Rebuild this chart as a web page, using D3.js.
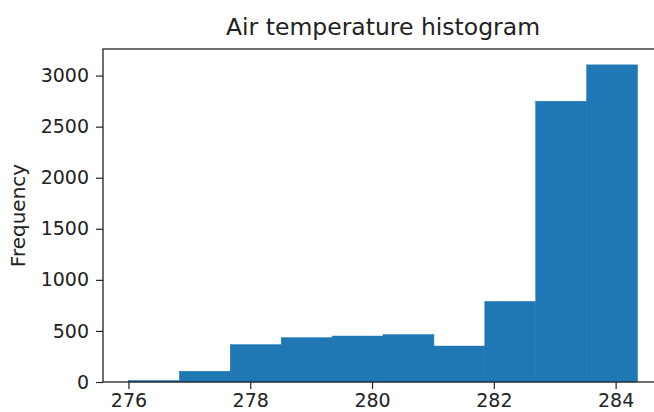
<!DOCTYPE html>
<html>
<head>
<meta charset="utf-8">
<script src="https://cdn.jsdelivr.net/npm/d3@7"></script>
<style>
  body { margin: 0; background: #fff; }
  svg { display: block; }
</style>
</head>
<body>
<div id="chart"></div>
<script>
// histogram bins (air temperature, K) and counts
var binEdges = [276.0, 276.836, 277.672, 278.508, 279.344, 280.18, 281.016, 281.852, 282.688, 283.524, 284.36];
var counts = [15, 105, 366, 434, 450, 464, 352, 789, 2749, 3105];
var xTicks = [276, 278, 280, 282, 284];
var yTicks = [0, 500, 1000, 1500, 2000, 2500, 3000];

var w = 654, h = 412;
var margin = { top: 49, right: -9, bottom: 30, left: 103 };
var width = w - margin.left - margin.right,
    height = h - margin.top - margin.bottom;

var bins = counts.map(function (c, i) {
  return { x0: binEdges[i], x1: binEdges[i + 1], n: c };
});

var lo = binEdges[0], hi = binEdges[binEdges.length - 1];
var pad = (hi - lo) * 0.05;
var x = d3.scaleLinear().domain([lo - pad, hi + pad]).range([0, width]);
var y = d3.scaleLinear().domain([0, d3.max(counts) * 1.05]).range([height, 0]);

var svg = d3.select("#chart").append("svg")
  .attr("width", w)
  .attr("height", h)
  .style("font-family", "'DejaVu Sans', sans-serif");

var g = svg.append("g")
  .attr("transform", "translate(" + margin.left + "," + margin.top + ")");

g.append("g")
  .selectAll("rect")
  .data(bins)
  .enter()
  .append("rect")
  .attr("x", function (d) { return x(d.x0); })
  .attr("width", function (d) { return x(d.x1) - x(d.x0); })
  .attr("y", function (d) { return y(d.n); })
  .attr("height", function (d) { return y(0) - y(d.n); })
  .attr("fill", "#1f77b4")
  .attr("stroke", "#1f77b4")
  .attr("stroke-width", 0.5);

var xAxis = g.append("g")
  .attr("transform", "translate(0," + height + ")")
  .call(d3.axisBottom(x).tickValues(xTicks).tickFormat(d3.format("d")).tickSizeInner(7).tickSizeOuter(0).tickPadding(5));

var yAxis = g.append("g")
  .call(d3.axisLeft(y).tickValues(yTicks).tickFormat(d3.format("d")).tickSizeInner(7).tickSizeOuter(0).tickPadding(7));

[xAxis, yAxis].forEach(function (a) {
  a.selectAll("text").attr("font-size", "19px").attr("fill", "#222").attr("font-family", "'DejaVu Sans', sans-serif");
  a.selectAll("line").attr("stroke", "#222").attr("stroke-width", 1.2);
  a.select(".domain").remove();
});

// frame
g.append("rect")
  .attr("x", 0).attr("y", 0)
  .attr("width", width).attr("height", height)
  .attr("fill", "none")
  .attr("stroke", "#222")
  .attr("stroke-width", 1.3);

svg.append("text")
  .attr("x", margin.left + width / 2)
  .attr("y", 35)
  .attr("text-anchor", "middle")
  .attr("font-size", "23.5px")
  .attr("fill", "#222")
  .text("Air temperature histogram");

svg.append("text")
  .attr("transform", "translate(25," + (margin.top + height / 2) + ") rotate(-90)")
  .attr("text-anchor", "middle")
  .attr("font-size", "20px")
  .attr("fill", "#222")
  .text("Frequency");
</script>
</body>
</html>
